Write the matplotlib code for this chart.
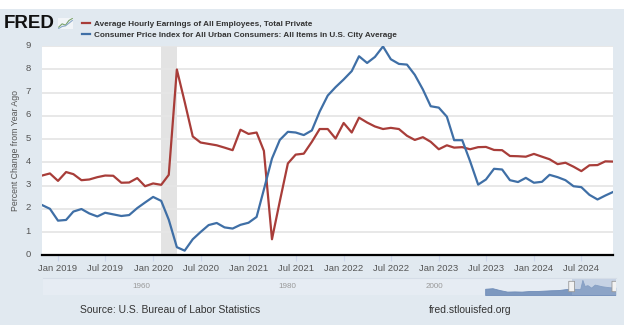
import pandas as pd
import matplotlib.pyplot as plt
import matplotlib.dates as mdates
import matplotlib.transforms as mtransforms
from matplotlib.patches import Rectangle, FancyBboxPatch

W, H = 624, 325

# monthly percent change from year ago, Nov 2018 .. Nov 2024
ahe = [3.43, 3.52, 3.20, 3.58, 3.49, 3.23, 3.26, 3.36, 3.43, 3.42, 3.12, 3.13,
       3.32, 2.97, 3.09, 3.03, 3.46, 7.99, 6.60, 5.11, 4.85, 4.79, 4.73, 4.63,
       4.52, 5.40, 5.22, 5.28, 4.49, 0.69, 2.32, 3.95, 4.33, 4.37, 4.88, 5.43,
       5.43, 5.02, 5.69, 5.28, 5.92, 5.71, 5.54, 5.43, 5.48, 5.43, 5.14, 4.96,
       5.08, 4.88, 4.56, 4.73, 4.63, 4.65, 4.56, 4.65, 4.66, 4.53, 4.52, 4.27,
       4.26, 4.24, 4.36, 4.24, 4.13, 3.92, 3.98, 3.81, 3.62, 3.87, 3.88, 4.04,
       4.03]
cpi = [2.16, 2.00, 1.49, 1.52, 1.88, 1.99, 1.80, 1.67, 1.83, 1.76, 1.69, 1.73,
       2.03, 2.27, 2.51, 2.34, 1.53, 0.35, 0.20, 0.69, 1.00, 1.30, 1.39, 1.20,
       1.15, 1.31, 1.40, 1.65, 2.83, 4.16, 4.96, 5.31, 5.28, 5.17, 5.37, 6.18,
       6.87, 7.23, 7.56, 7.92, 8.56, 8.27, 8.53, 8.98, 8.43, 8.23, 8.20, 7.76,
       7.13, 6.41, 6.35, 5.96, 4.95, 4.95, 4.05, 3.04, 3.26, 3.72, 3.69, 3.23,
       3.15, 3.33, 3.12, 3.16, 3.46, 3.36, 3.23, 2.97, 2.93, 2.60, 2.40, 2.57,
       2.73]
dates = pd.date_range('2018-11-01', periods=len(ahe), freq='MS')
recession = ('2020-02-01', '2020-04-01')
tick_dates = pd.date_range('2019-01-01', '2024-07-01', freq='6MS')

# navigator overview (rough yearly values)
nav_years = [2007, 2008, 2009, 2010, 2011, 2012, 2013, 2014, 2015, 2016, 2017,
             2018, 2019, 2020, 2020.3, 2020.6, 2021, 2021.5, 2022, 2023, 2024, 2024.8]
nav_values = [3.3, 3.6, 2.6, 1.8, 1.9, 1.8, 2.1, 2.1, 2.3, 2.5, 2.6,
              3.1, 3.3, 3.1, 8.0, 4.8, 5.2, 3.9, 5.5, 4.6, 4.1, 4.0]
nav_labels = [1960, 1980, 2000]

red = '#a83d39'
blue = '#3f6fa6'
bg = '#e1e9f0'
sans = ['Liberation Sans', 'DejaVu Sans']


def fx(px):
    return px / W


def fy(py):
    return 1 - py / H


fig = plt.figure(figsize=(W / 100, H / 100), dpi=100, facecolor=bg)
fig.add_artist(Rectangle((0, fy(9)), 1, 9 / H, transform=fig.transFigure,
                         facecolor='white', edgecolor='none'))

ax = fig.add_axes([fx(42.1), fy(255.3), fx(613.4 - 42.1), (255.3 - 46) / H])
ax.set_facecolor('white')
ax.axvspan(pd.Timestamp(recession[0]), pd.Timestamp(recession[1]),
           color='#e3e3e3', lw=0, zorder=1)
l1, = ax.plot(dates, ahe, color=red, lw=1.6, zorder=3,
              label='Average Hourly Earnings of All Employees, Total Private')
l2, = ax.plot(dates, cpi, color=blue, lw=1.6, zorder=3,
              label='Consumer Price Index for All Urban Consumers: All Items in U.S. City Average')
ax.set_xlim(dates[0], dates[-1])
ax.set_ylim(0, 9)
ax.set_yticks(range(0, 10))
ax.grid(axis='y', color='#e6e6e6', lw=1.3, zorder=0)
for s in ['top', 'right', 'left']:
    ax.spines[s].set_visible(False)
ax.spines['bottom'].set_color('black')
ax.spines['bottom'].set_linewidth(1.6)
ax.spines['bottom'].set_zorder(4)
ax.set_xticks(tick_dates)
ax.xaxis.set_major_formatter(mdates.DateFormatter('%b %Y'))
ax.tick_params(axis='x', length=4, color='#ccd6eb', labelsize=6.8, labelcolor='#555555', pad=2.5)
ax.tick_params(axis='y', length=0, labelsize=6.8, labelcolor='#555555', pad=8)
for lab in ax.get_xticklabels() + ax.get_yticklabels():
    lab.set_family(sans)
shift = mtransforms.ScaledTranslation(0, 2 / 100, fig.dpi_scale_trans)
for lab in ax.get_yticklabels():
    lab.set_transform(lab.get_transform() + shift)
ax.set_ylabel('Percent Change from Year Ago', fontsize=6.3, color='#555555',
              family=sans)
ax.yaxis.set_label_coords(-0.039, 0.5)

# header
fig.text(fx(4), fy(24), 'FRED', fontsize=13.5, fontweight='heavy', color='#111111',
         va='center', ha='left', family=sans)
logo = fig.add_axes([fx(58), fy(29), fx(15), 11 / H])
logo.set_facecolor('#f2f5f8')
logo.plot([0, 1, 2, 3, 4], [1, 2, 1.6, 3, 3.6], color='#7aa36b', lw=0.8)
logo.plot([0, 1, 2, 3, 4], [0.6, 1.2, 1.4, 2.2, 3.0], color='#8aa8c8', lw=0.8)
logo.set_xticks([])
logo.set_yticks([])
for s in logo.spines.values():
    s.set_visible(False)

fig.legend(handles=[l1, l2], loc='upper left', bbox_to_anchor=(fx(78), fy(16)),
           frameon=False, handlelength=1.0, handletextpad=0.45, borderpad=0,
           labelspacing=0.45, prop={'size': 5.85, 'weight': 'bold', 'family': sans},
           labelcolor='#333333')

# navigator
nav = fig.add_axes([fx(43), fy(295), fx(616 - 43), 17 / H])
nav.set_facecolor('#e6ecf3')
nav.fill_between(nav_years, nav_values, color='#7d98bf', lw=0.6, edgecolor='#6f8cb8')
nav.set_xlim(1946.5, 2024.9)
nav.set_ylim(0, 9)
nav.axvspan(dates[0].year + (dates[0].month - 1) / 12, 2024.9, color='#9fb4d2', alpha=0.45, lw=0)
nav.set_xticks([])
nav.set_yticks([])
for s in nav.spines.values():
    s.set_visible(False)
nav.spines['top'].set_visible(True)
nav.spines['top'].set_color('#d5dde7')
for yr in nav_labels:
    nav.text(yr, 4.5, str(yr), fontsize=5.8, color='#999999', ha='center', va='center',
             family=sans)
for hx in [dates[0].year + (dates[0].month - 1) / 12, 2024.75]:
    nav.add_patch(FancyBboxPatch((hx - 0.35, 1.8), 0.7, 5.4, boxstyle='round,pad=0.05',
                                 facecolor='#f2f2f2', edgecolor='#999999', lw=0.6, zorder=5))

fig.text(fx(80), fy(310), 'Source: U.S. Bureau of Labor Statistics', fontsize=7.5,
         color='#333333', va='center', ha='left', family=sans)
fig.text(fx(429), fy(310), 'fred.stlouisfed.org', fontsize=7.5,
         color='#333333', va='center', ha='left', family=sans)

fig.savefig('out.png', dpi=100, facecolor=bg)
